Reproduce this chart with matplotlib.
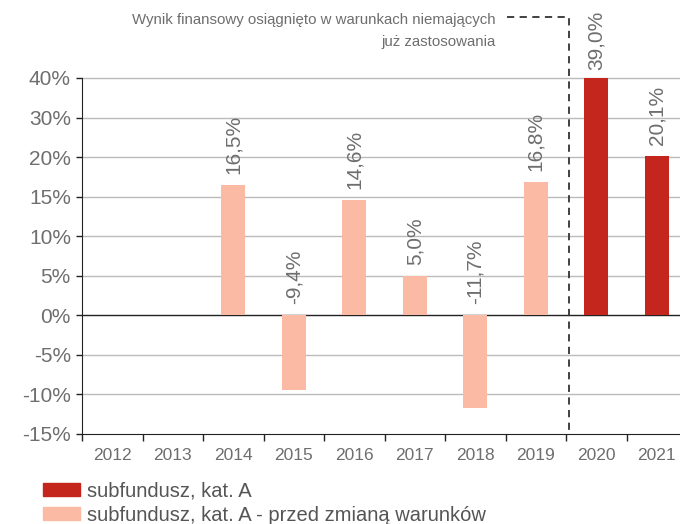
import matplotlib
matplotlib.use('Agg')
from matplotlib import pyplot as plt
from matplotlib.patches import Patch
from matplotlib.transforms import blended_transform_factory

plt.rcParams['font.family'] = ['Liberation Sans', 'DejaVu Sans']

years = ['2012', '2013', '2014', '2015', '2016', '2017', '2018', '2019', '2020', '2021']
before_change = [None, None, 16.5, -9.4, 14.6, 5.0, -11.7, 16.8, None, None]
after_change = [None, None, None, None, None, None, None, None, 39.0, 20.1]
ytick_vals = [-15, -10, -5, 0, 5, 10, 15, 20, 25, 30]
ytick_labels = ['-15%', '-10%', '-5%', '0%', '5%', '10%', '15%', '20%', '30%', '40%']

COLOR_A = '#C4261D'
COLOR_BEFORE = '#FBBAA3'
TEXT_GREY = '#6E6E6E'

fig = plt.figure(figsize=(6.8, 5.24), dpi=100)
ax = fig.add_axes([0.1206, 0.1718, 0.8897, 0.6794])

x = list(range(len(years)))
for series, color in ((before_change, COLOR_BEFORE), (after_change, COLOR_A)):
    xs = [i for i, v in zip(x, series) if v is not None]
    vs = [v for v in series if v is not None]
    ax.bar(xs, vs, width=0.39, color=color, zorder=3)
    for xi, v in zip(xs, vs):
        label = f'{v:.1f}%'.replace('.', ',')
        y_text = min(max(v, 0), 29.6)
        ax.annotate(label, (xi, y_text), xytext=(0, 8), textcoords='offset points',
                    rotation=90, ha='center', va='bottom', fontsize=15,
                    color=TEXT_GREY, annotation_clip=False)

ax.set_xlim(-0.5, len(years) - 0.5)
ax.set_ylim(-15, 29.6)
ax.set_yticks(ytick_vals)
ax.set_yticklabels(ytick_labels, fontsize=15, color=TEXT_GREY)
ax.set_xticks(x)
ax.set_xticklabels(years, fontsize=12.5, color=TEXT_GREY)
ax.set_xticks([i - 0.5 for i in x] + [len(years) - 0.5], minor=True)
ax.tick_params(axis='x', which='major', length=0, pad=10)
ax.tick_params(axis='x', which='minor', length=5, width=1, color='#222222', direction='out')
ax.tick_params(axis='y', length=4, width=1, color='#222222', pad=4)

for v in ytick_vals[1:]:
    ax.axhline(v, color='#222222' if v == 0 else '#BBBBBB', lw=1, zorder=1, clip_on=False)
for side in ('top', 'right'):
    ax.spines[side].set_visible(False)
ax.spines['left'].set_color('#222222')
ax.spines['left'].set_bounds(-15, 30)
ax.spines['bottom'].set_color('#222222')

# dashed boundary marking the change of conditions
trans = blended_transform_factory(ax.transData, ax.transAxes)
ax.plot([6.52, 7.55, 7.55], [1.172, 1.172, 0], transform=trans, color='#333333',
        lw=1.3, ls=(0, (4, 3)), clip_on=False, zorder=4)
ax.text(6.33, 1.183, 'Wynik finansowy osiągnięto w warunkach niemających\njuż zastosowania',
        transform=trans, ha='right', va='top', fontsize=10.8, color=TEXT_GREY,
        family=['Liberation Sans Narrow', 'Liberation Sans', 'DejaVu Sans'], linespacing=1.75)

handles = [Patch(color=COLOR_A, label='subfundusz, kat. A'),
           Patch(color=COLOR_BEFORE, label='subfundusz, kat. A - przed zmianą warunków')]
fig.legend(handles=handles, loc='lower left', bbox_to_anchor=(0.052, -0.017), frameon=False,
           fontsize=14.5, handlelength=1.8, handleheight=0.62, handletextpad=0.35,
           labelspacing=0.25, labelcolor='#555555', borderaxespad=0)

fig.savefig('out.png', dpi=100)
